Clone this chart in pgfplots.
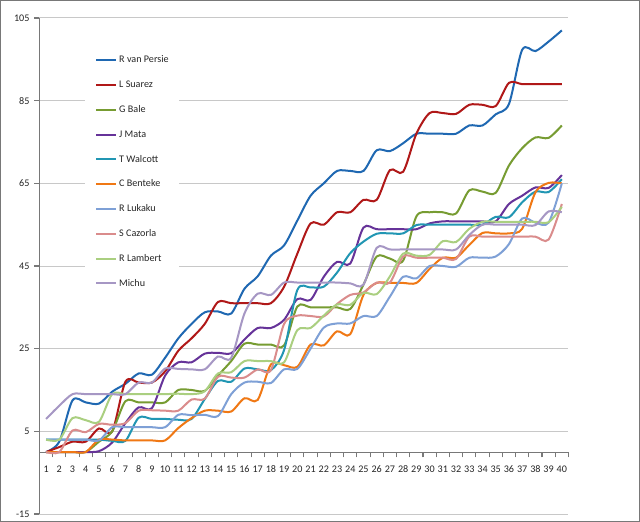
\documentclass[border=0pt]{standalone}
\usepackage{fontspec}
\setmainfont{Carlito}
\usepackage{pgfplots}
\usepackage{pgfplotstable}
\pgfplotsset{compat=1.18}

\definecolor{cvp}{RGB}{31,104,178}
\definecolor{csu}{RGB}{176,24,24}
\definecolor{cba}{RGB}{119,156,50}
\definecolor{cma}{RGB}{102,51,153}
\definecolor{cwa}{RGB}{33,150,179}
\definecolor{cbe}{RGB}{240,120,20}
\definecolor{clu}{RGB}{126,160,214}
\definecolor{cca}{RGB}{218,140,140}
\definecolor{cla}{RGB}{170,207,128}
\definecolor{cmi}{RGB}{166,151,196}
\definecolor{gridgray}{RGB}{200,200,200}
\definecolor{axgray}{RGB}{120,120,120}

\pgfplotstableread{
k vp su ba ma wa be lu ca la mi
1 0 0 0 0 3 0 3 0 3 8
2 2.5 1.2 0 0 3 0 3 0 3 11.2
3 12.5 2.5 0 0 3 0 3 5.2 8.2 14
4 12 2.5 0 0 3 0 3 4.8 7.7 14
5 11.7 5.7 2.5 0.2 3 3 2.8 6.8 7.3 14
6 14.6 5 5 2.3 2.7 3 6 6.6 14 14
7 16.5 17 12.3 7 2.7 2.8 6 7 14 14
8 19 16.8 12 10.8 8.3 2.8 6 10 14 16.8
9 18.7 16.8 12 10.6 8 2.8 6 10.1 14 16.8
10 22.8 19.5 12 18.5 8 2.8 6 10 14 20.2
11 27.5 24.5 15 21.7 7.8 5.8 9 10 14.1 20.1
12 31 27.5 15 21.7 8 8.2 8.9 12.7 14 20
13 33.8 31 14.8 23.8 12.8 10 9 12.9 14.7 20
14 34 36.3 18.5 24 17.2 10 8.7 18.2 19 23.1
15 33.5 36 22 23.9 17 9.8 14 18 19.3 22.8
16 39.5 36 26.2 27.2 20.2 13 16.8 18 22 33.5
17 42.5 36 26 30 20 12.6 17 20 22 38.3
18 47.5 36 26 30 19.8 21.2 16.7 19.8 22 38
19 50 40 25.8 32 24.7 21 20 31 21.7 41
20 56 48 35.2 37 39.2 20.6 20.1 33 29.5 41
21 62 55.3 35 36.8 39.8 26 25 32.9 30 41
22 65 55 35 42.4 40 25.8 30.1 32.8 33 41
23 68 58 35 46 43.4 29.2 31.1 35.8 35.7 41
24 68 58 34.6 45.6 48.1 28.5 31.1 38 35.6 40.8
25 68 61 40.5 54.3 50.9 38 32.9 38.6 38.5 40.5
26 73 61 47.3 53.9 52.8 40.9 32.9 41 38.2 49.4
27 72.8 68.2 46.8 53.9 52.9 40.9 37.6 41 42.5 49
28 74.7 67.8 46.3 53.9 52.9 40.9 42.4 47.3 48 49
29 77 77 57 53.9 54.9 40.9 42 47 47.5 49
30 77 82 58 55.3 55 44.3 45 47 47.7 49
31 77 82 58 55.8 55 47 45 47 51 49
32 77 81.8 57.7 55.8 55 47 44.8 46.7 50.8 49
33 79 84 63.3 55.8 55 50.1 47 52.1 54 52.5
34 79 84 63 55.8 55 53 47 52.1 55.7 55
35 81.7 83.7 62.7 55.8 56.9 52.9 47.3 52.1 55.7 55
36 84.2 89.3 69.3 60 56.8 52.9 50.3 52.1 55.7 55
37 97.3 89 73.5 62 60.4 54 56.5 52.1 55.7 55
38 97 89 76.1 64 63 62.8 55.5 52.1 55.7 54.9
39 99.3 89 76 63.9 62.9 65.1 55.5 51.4 55.6 58.2
40 102 89 79 67 66 65 65 60 59.3 58
}\data

\begin{document}
\begin{tikzpicture}[x=1pt,y=1pt]
\path[use as bounding box] (0,0) rectangle (480,391.5);
\fill[white] (0,0) rectangle (480,391.5);
\draw[axgray, line width=0.9pt] (0.45,0.45) rectangle (479.55,391.05);
% category axis, its line at y = 0 of the value axis
\begin{axis}[
  at={(29.6pt,52.5pt)}, anchor=south west, scale only axis,
  width=396.75pt, height=325.5pt,
  xmin=0.5, xmax=40.5, ymin=0, ymax=105,
  axis x line*=bottom, axis y line=none,
  xtick={1,2,...,40},
  minor xtick={0.5,1.5,...,40.5},
  tick align=outside, major tick length=4pt, minor tick length=4pt,
  major x tick style={draw=none},
  minor x tick style={draw=axgray, line width=0.8pt},
  axis line style={draw=axgray, line width=0.75pt, -},
  /pgf/number format/assume math mode=true,
  ticklabel style={font=\fontsize{7.6}{9}\selectfont, text=black!85},
  xticklabel style={yshift=-3pt},
]
\end{axis}
\begin{axis}[
  at={(29.6pt,6pt)}, anchor=south west, scale only axis,
  width=396.75pt, height=372pt,
  xmin=0.5, xmax=40.5, ymin=-15, ymax=105,
  ytick={-15,5,...,105},
  xtick=\empty,
  axis x line=none, axis y line*=left,
  tick align=outside,
  major tick length=4pt,
  every tick/.style={draw=axgray, line width=0.8pt},
  axis line style={draw=axgray, line width=0.75pt, -},
  ymajorgrids, major grid style={line width=0.75pt, color=gridgray},
  /pgf/number format/assume math mode=true,
  ticklabel style={font=\fontsize{7.6}{9}\selectfont, text=black!85},
  every axis plot/.append style={line width=1.5pt, smooth},
  legend cell align=left,
  legend style={at={(0.086,0.949)}, anchor=north west, draw=none, fill=white,
    font=\fontsize{7.6}{9}\selectfont, text=black!85,
    nodes={inner sep=0pt, text height=5.5pt, text depth=1.5pt},
    row sep=11.6pt, inner xsep=7.5pt, inner ysep=9pt,
    /tikz/every odd column/.append style={column sep=1.5pt}},
  legend image code/.code={\draw[#1] (0pt,0pt) -- (15pt,0pt);},
]
\addplot[cvp] table[x=k,y=vp] {\data};
\addplot[csu] table[x=k,y=su] {\data};
\addplot[cba] table[x=k,y=ba] {\data};
\addplot[cma] table[x=k,y=ma] {\data};
\addplot[cwa] table[x=k,y=wa] {\data};
\addplot[cbe] table[x=k,y=be] {\data};
\addplot[clu] table[x=k,y=lu] {\data};
\addplot[cca] table[x=k,y=ca] {\data};
\addplot[cla] table[x=k,y=la] {\data};
\addplot[cmi] table[x=k,y=mi] {\data};
\legend{R van Persie, L Suarez, G Bale, J Mata, T Walcott, C Benteke, R Lukaku, S Cazorla, R Lambert, Michu}
\end{axis}
\end{tikzpicture}
\end{document}
